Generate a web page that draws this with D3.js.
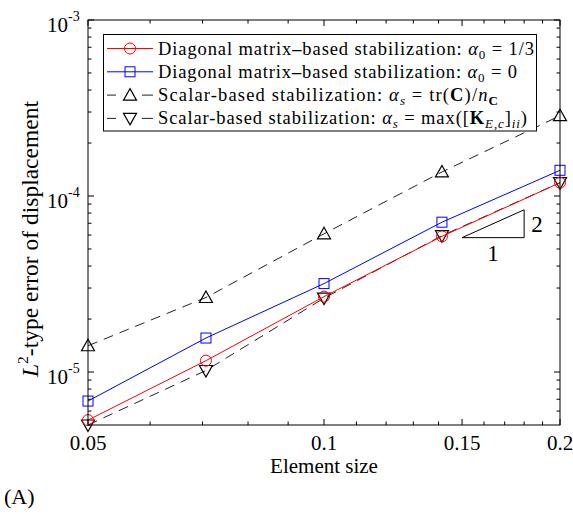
<!DOCTYPE html>
<html><head><meta charset="utf-8">
<script src="https://cdn.jsdelivr.net/npm/d3@7"></script>
<style>body{margin:0;background:#fff}svg{display:block}text{font-family:"Liberation Serif","Times New Roman",serif;fill:#000}</style>
</head><body><div id="chart"></div>
<script>
const elementSize = [0.05, 0.0707, 0.1, 0.1414, 0.2];
const diagAlpha13 = [5.33e-6, 1.16e-5, 2.68e-5, 5.9e-5, 1.19e-4];
const diagAlpha0 = [6.84e-6, 1.56e-5, 3.18e-5, 7.1e-5, 1.40e-4];
const scalarTrace = [1.41e-5, 2.65e-5, 6.1e-5, 1.37e-4, 2.86e-4];
const scalarMax = [5.0e-6, 1.02e-5, 2.63e-5, 5.95e-5, 1.19e-4];
const xTickLabels = ["0.05", "0.1", "0.15", "0.2"];
const xTickValues = [0.05, 0.1, 0.15, 0.2];
const yTickValues = [1e-5, 1e-4, 1e-3];
const yTickExps = ["-5", "-4", "-3"];
const slopeTri = {x0: 0.15, x1: 0.18, y0: 5.8e-5, slope: 2};

const W = 573, H = 517;
const m = {l: 88, r: 560, t: 20, b: 425};
const svg = d3.select("#chart").append("svg").attr("width", W).attr("height", H);
const x = d3.scaleLog().domain([0.05, 0.2]).range([m.l, m.r]);
const y = d3.scaleLog().domain([5e-6, 1e-3]).range([m.b, m.t]);

// ticks
const xMinor = d3.range(5, 21).map(d => d / 100).filter(v => !xTickValues.some(t => Math.abs(t - v) < 1e-9));
const yMinor = [];
[1e-6, 1e-5, 1e-4].forEach(d => { for (let k = 2; k <= 9; k++) { const v = d * k; if (v >= 5e-6 && v <= 1e-3) yMinor.push(v); } });
const g = svg.append("g").attr("stroke", "#000").attr("stroke-width", 1);
const maj = 6, mnr = 3.5;
xTickValues.forEach(v => {
  g.append("line").attr("x1", x(v)).attr("x2", x(v)).attr("y1", m.b).attr("y2", m.b - maj);
  g.append("line").attr("x1", x(v)).attr("x2", x(v)).attr("y1", m.t).attr("y2", m.t + maj);
});
xMinor.forEach(v => {
  g.append("line").attr("x1", x(v)).attr("x2", x(v)).attr("y1", m.b).attr("y2", m.b - mnr);
  g.append("line").attr("x1", x(v)).attr("x2", x(v)).attr("y1", m.t).attr("y2", m.t + mnr);
});
yTickValues.forEach(v => {
  g.append("line").attr("x1", m.l).attr("x2", m.l + maj).attr("y1", y(v)).attr("y2", y(v));
  g.append("line").attr("x1", m.r).attr("x2", m.r - maj).attr("y1", y(v)).attr("y2", y(v));
});
yMinor.forEach(v => {
  g.append("line").attr("x1", m.l).attr("x2", m.l + mnr).attr("y1", y(v)).attr("y2", y(v));
  g.append("line").attr("x1", m.r).attr("x2", m.r - mnr).attr("y1", y(v)).attr("y2", y(v));
});

// tick labels
xTickValues.forEach((v, i) => {
  svg.append("text").attr("x", x(v)).attr("y", 450).attr("text-anchor", "middle").attr("font-size", 21).text(xTickLabels[i]);
});
yTickValues.forEach((v, i) => {
  svg.append("text").attr("x", 68).attr("y", y(v) + 12).attr("text-anchor", "end").attr("font-size", 21).text("10");
  svg.append("text").attr("x", 68).attr("y", y(v) + 1).attr("font-size", 14).text(yTickExps[i]);
});

// axis titles
svg.append("text").attr("x", 324).attr("y", 473).attr("text-anchor", "middle").attr("font-size", 21).text("Element size");
const yl = svg.append("text").attr("transform", "translate(38,377) rotate(-90)").attr("font-size", 23.5);
yl.append("tspan").attr("font-style", "italic").text("L");
yl.append("tspan").attr("font-size", 15.5).attr("dy", -10).text("2");
yl.append("tspan").attr("dy", 10).text("-type error of displacement");
svg.append("text").attr("x", 4).attr("y", 504).attr("font-size", 22).text("(A)");

// series
const series = [
  {vals: diagAlpha13, color: "#ff0000", dash: null, marker: "circle"},
  {vals: diagAlpha0, color: "#0000ff", dash: null, marker: "square"},
  {vals: scalarTrace, color: "#222", dash: "10,7", marker: "up"},
  {vals: scalarMax, color: "#222", dash: "10,7", marker: "down"}
];
const line = d3.line().x((d, i) => x(elementSize[i])).y(d => y(d));
function drawMarker(sel, type, cx, cy, color) {
  if (type === "circle") sel.append("circle").attr("cx", cx).attr("cy", cy).attr("r", 5.5).attr("fill", "none").attr("stroke", color).attr("stroke-width", 1);
  else if (type === "square") sel.append("rect").attr("x", cx - 5).attr("y", cy - 5).attr("width", 10).attr("height", 10).attr("fill", "none").attr("stroke", color).attr("stroke-width", 1);
  else if (type === "up") sel.append("path").attr("d", `M${cx},${cy - 6.5}L${cx + 6.5},${cy + 5}L${cx - 6.5},${cy + 5}Z`).attr("fill", "none").attr("stroke", "#000").attr("stroke-width", 1.2);
  else sel.append("path").attr("d", `M${cx},${cy + 6.5}L${cx + 6.5},${cy - 5}L${cx - 6.5},${cy - 5}Z`).attr("fill", "none").attr("stroke", "#000").attr("stroke-width", 1.2);
}
[2, 3, 1, 0].forEach(k => {
  const s = series[k];
  svg.append("path").attr("d", line(s.vals)).attr("fill", "none").attr("stroke", s.color).attr("stroke-width", 1).attr("stroke-dasharray", s.dash);
  s.vals.forEach((v, i) => drawMarker(svg, s.marker, x(elementSize[i]), y(v), s.color));
});

// slope triangle
const tx0 = x(slopeTri.x0), tx1 = x(slopeTri.x1), ty0 = y(slopeTri.y0), ty1 = y(slopeTri.y0 * Math.pow(slopeTri.x1 / slopeTri.x0, slopeTri.slope));
svg.append("path").attr("d", `M${tx0},${ty0}L${tx1},${ty0}L${tx1},${ty1}Z`).attr("fill", "none").attr("stroke", "#000").attr("stroke-width", 1);
svg.append("text").attr("x", tx1 + 7).attr("y", (ty0 + ty1) / 2 + 8).attr("font-size", 23).text("2");
svg.append("text").attr("x", (tx0 + tx1) / 2).attr("y", ty0 + 23).attr("text-anchor", "middle").attr("font-size", 23).text("1");

// axes box
svg.append("rect").attr("x", m.l).attr("y", m.t).attr("width", m.r - m.l).attr("height", m.b - m.t).attr("fill", "none").attr("stroke", "#000").attr("stroke-width", 1);

// legend
const lg = svg.append("g");
lg.append("rect").attr("x", 103.5).attr("y", 34.5).attr("width", 433).attr("height", 96.5).attr("fill", "#fff").attr("stroke", "#000").attr("stroke-width", 1);
const legendRows = [
  [{t: "Diagonal matrix"}, {t: "–", b: 1}, {t: "based stabilization:  "}, {t: "α", i: 1}, {t: "0", sub: 1}, {t: " = 1/3"}],
  [{t: "Diagonal matrix"}, {t: "–", b: 1}, {t: "based stabilization:  "}, {t: "α", i: 1}, {t: "0", sub: 1}, {t: " = 0"}],
  [{t: "Scalar-based stabilization:  "}, {t: "α", i: 1}, {t: "s", sub: 1, i: 1}, {t: " = tr("}, {t: "C", b: 1}, {t: ")/"}, {t: "n", i: 1}, {t: "C", sub: 1, b: 1}],
  [{t: "Scalar-based stabilization:  "}, {t: "α", i: 1}, {t: "s", sub: 1, i: 1}, {t: " = max(["}, {t: "K", b: 1}, {t: "E,c", sub: 1, i: 1}, {t: "]"}, {t: "ii", sub: 1, i: 1}, {t: ")"}]
];
const rowWidths = [376, 359, 340, 369];
const rowY = [48.5, 71.8, 95.1, 118.4];
legendRows.forEach((row, r) => {
  const s = series[r];
  const yy = rowY[r];
  lg.append("line").attr("x1", 107).attr("x2", 153).attr("y1", yy).attr("y2", yy).attr("stroke", s.color).attr("stroke-width", 1).attr("stroke-dasharray", s.dash ? "9,14,0,100" : null);
  if (s.dash) lg.append("line").attr("x1", 142).attr("x2", 153).attr("y1", yy).attr("y2", yy).attr("stroke", s.color).attr("stroke-width", 1);
  drawMarker(lg, s.marker, 130, yy, s.color);
  const t = lg.append("text").attr("x", 158).attr("y", yy + 6).attr("font-size", 18.5)
    .attr("textLength", rowWidths[r]).attr("lengthAdjust", "spacing");
  let sub = false;
  row.forEach(seg => {
    const ts = t.append("tspan").text(seg.t);
    if (seg.i) ts.attr("font-style", "italic");
    if (seg.b) ts.attr("font-weight", "bold");
    if (seg.sub && !sub) { ts.attr("dy", 4).attr("font-size", 13); sub = true; }
    else if (seg.sub && sub) { ts.attr("font-size", 13); }
    else if (!seg.sub && sub) { ts.attr("dy", -4); sub = false; }
  });
});
</script></body></html>
